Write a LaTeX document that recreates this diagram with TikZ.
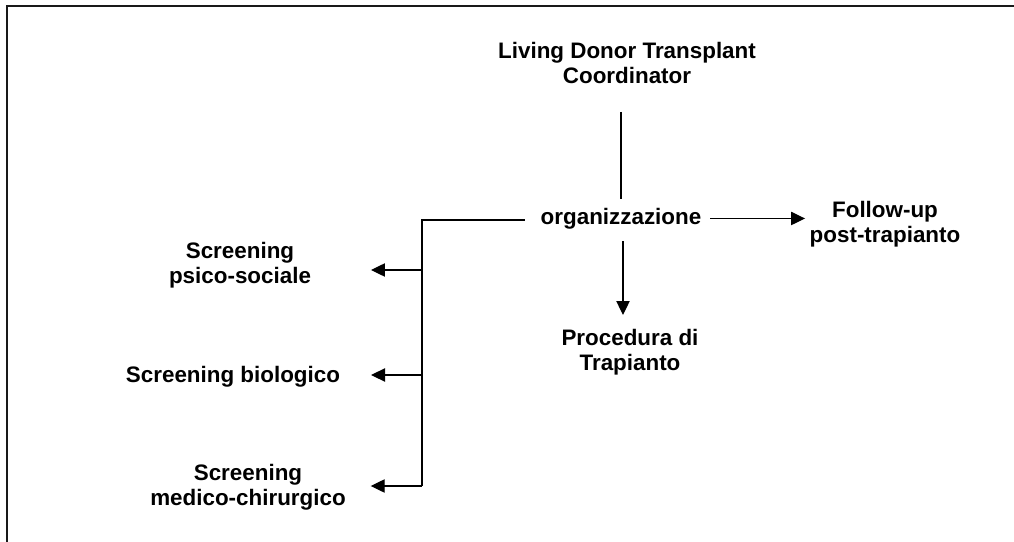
\documentclass[tikz,border=0pt]{standalone}
\usepackage{fontspec}
\setmainfont{Liberation Sans}
\usetikzlibrary{arrows.meta}
\begin{document}
\begin{tikzpicture}[x=0.75pt,y=-0.75pt,
  lbl/.style={anchor=north,inner sep=0pt,outer sep=0pt,align=center,
    font=\fontsize{16.8}{19}\selectfont\bfseries},
  conn/.style={line width=0.9pt,black},
  arr/.style={conn,-{Triangle[length=10.5pt,width=10pt]}}]
\useasboundingbox (0,0) rectangle (1014,542);
% frame
\draw[line width=1.5pt,black!90] (7,542) -- (7,6) -- (1014,6);
% nodes
\node[lbl] (coord) at (627,42) {Living Donor Transplant\\Coordinator};
\node[lbl] (org) at (621,208) {organizzazione};
\node[lbl] (follow) at (885,201) {Follow-up\\post-trapianto};
\node[lbl] (proc) at (630,329) {Procedura di\\Trapianto};
\node[lbl] (psico) at (240,242) {Screening\\psico-sociale};
\node[lbl] (bio) at (233,366) {Screening biologico};
\node[lbl] (med) at (248,464) {Screening\\medico-chirurgico};
% spine coordinates
\coordinate (sp1) at (422,270);
\coordinate (sp2) at (422,375);
\coordinate (sp3) at (422,486);
% connectors
\draw[conn,shorten <=21pt,shorten >=6.75pt] (coord.south -| org.north) -- (org.north);
\draw[arr,shorten <=6.75pt,shorten >=3.5pt] (org.east) -- (org.east -| follow.west);
\draw[conn,shorten <=11.8pt] ([yshift=-1.2pt]org.west) -| (sp3);
\draw[arr,shorten >=45pt] (sp1) -- (sp1 -| psico.east);
\draw[arr,shorten >=23.25pt] (sp2) -- (sp2 -| bio.east);
\draw[arr,shorten >=18.75pt] (sp3) -- (sp3 -| med.east);
\draw[arr,shorten <=9.2pt,shorten >=10.5pt] ([xshift=1.5pt]org.south) -- ([xshift=1.5pt]org.south |- proc.north);
\end{tikzpicture}
\end{document}
